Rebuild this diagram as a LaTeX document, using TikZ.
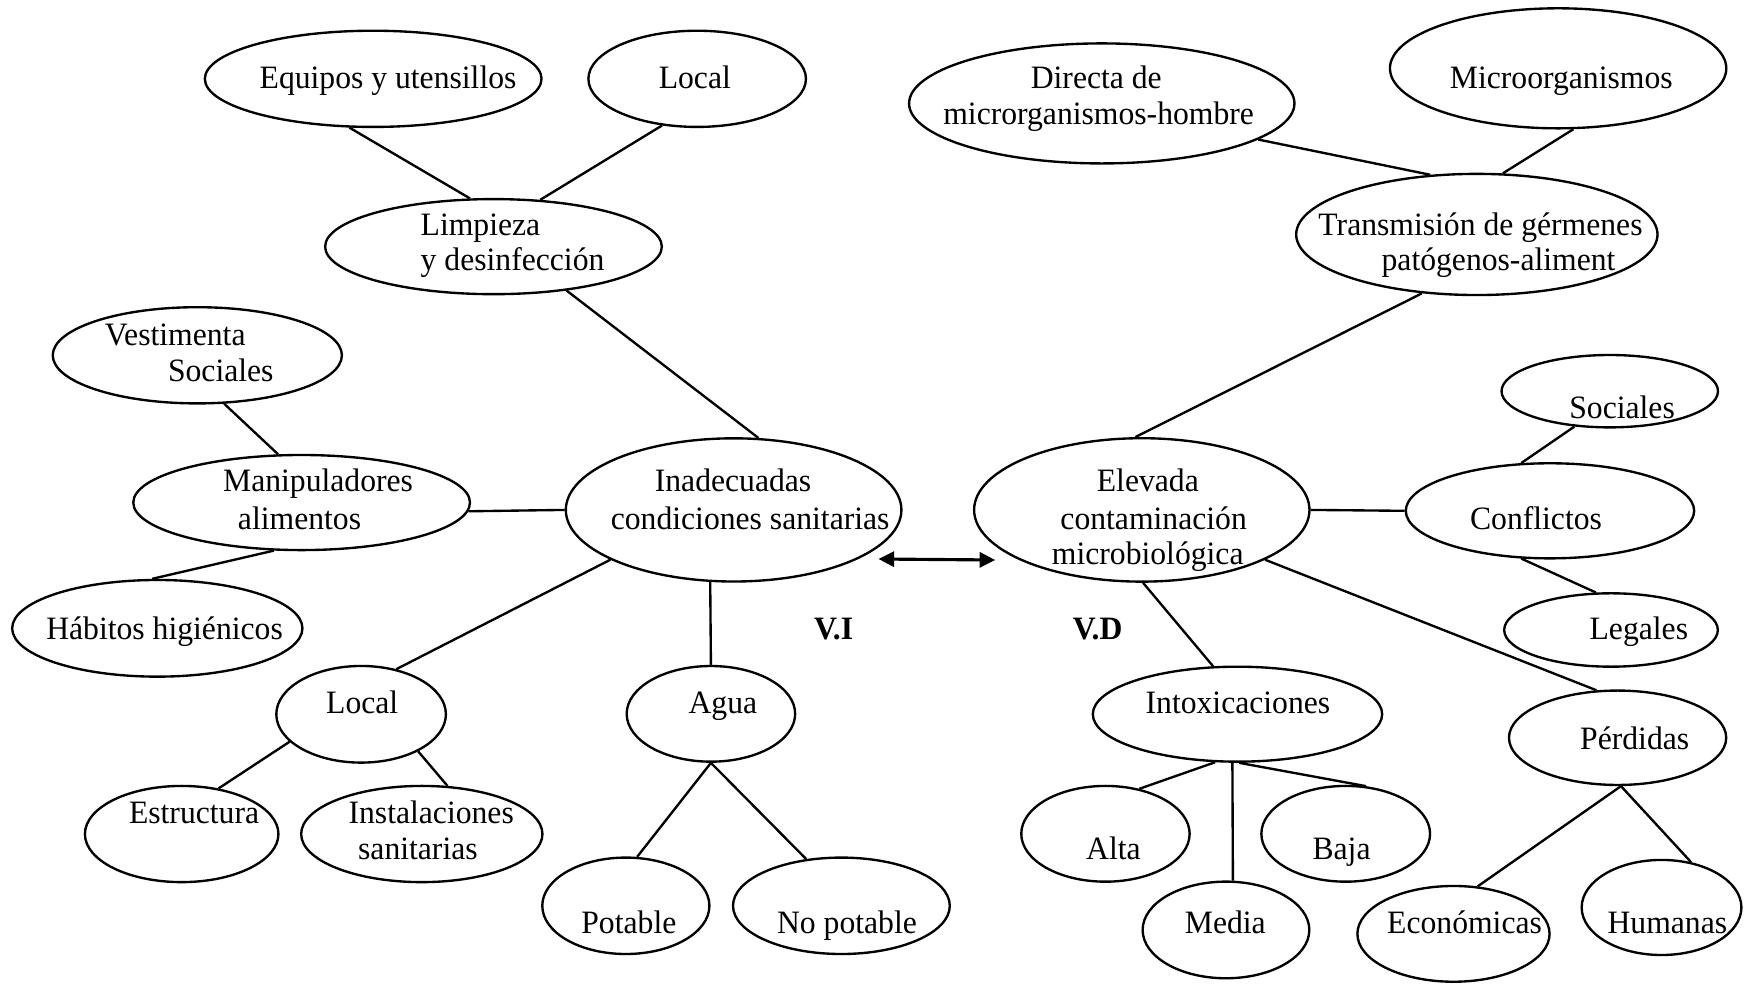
\documentclass[tikz,border=0pt]{standalone}
\usepackage{fontspec}
\setmainfont[FakeStretch=0.97]{Liberation Serif}
\usetikzlibrary{shapes.geometric,arrows.meta}

\begin{document}
\begin{tikzpicture}[x=0.01cm,y=-0.01cm,
  ell/.style={ellipse, draw, line width=0.6pt, inner sep=0pt},
  txt/.style={anchor=base, inner sep=0pt, font=\fontsize{8.3pt}{9.5pt}\selectfont},
  txtl/.style={txt, anchor=base west},
  vtxt/.style={txt, font=\fontsize{8.3pt}{9.5pt}\selectfont\bfseries},
  link/.style={line width=0.6pt},
  dbl/.style={line width=0.8pt, {Triangle[length=1.4mm,width=1.35mm]}-{Triangle[length=1.4mm,width=1.35mm]}}]
\useasboundingbox (0,0) rectangle (1568,881);

% ---- ellipses, left cluster (independent variable) ----
\node[ell, minimum width=3.01cm,  minimum height=0.86cm]  (eq)    at (333.8,70.5)  {};
\node[ell, minimum width=1.945cm, minimum height=0.86cm]  (loct)  at (623.6,70.5)  {};
\node[ell, minimum width=3.01cm,  minimum height=0.85cm]  (limp)  at (441.4,220.6) {};
\node[ell, minimum width=2.585cm, minimum height=0.86cm]  (vest)  at (176.5,317.8) {};
\node[ell, minimum width=3.01cm,  minimum height=0.85cm]  (manip) at (269.8,449.5) {};
\node[ell, minimum width=2.595cm, minimum height=0.864cm] (hab)   at (140.7,562)   {};
\node[ell, minimum width=3.00cm,  minimum height=1.28cm]  (inad)  at (656.2,456.1) {};
\node[ell, minimum width=1.516cm, minimum height=0.864cm] (locb)  at (323,638.9)   {};
\node[ell, minimum width=1.73cm,  minimum height=0.86cm]  (estr)  at (162.5,746)   {};
\node[ell, minimum width=2.157cm, minimum height=0.86cm]  (inst)  at (377.3,746)   {};
\node[ell, minimum width=1.506cm, minimum height=0.855cm] (agua)  at (635.9,638.5) {};
\node[ell, minimum width=1.494cm, minimum height=0.862cm] (pot)   at (559.8,810.2) {};
\node[ell, minimum width=1.938cm, minimum height=0.862cm] (nopot) at (752.6,810.2) {};

% ---- ellipses, right cluster (dependent variable) ----
\node[ell, minimum width=3.445cm, minimum height=1.073cm] (dir)   at (985.5,92.5)   {};
\node[ell, minimum width=3.007cm, minimum height=1.073cm] (micro) at (1393.7,61.1)  {};
\node[ell, minimum width=3.23cm,  minimum height=1.083cm] (trans) at (1321,209.7)   {};
\node[ell, minimum width=1.935cm, minimum height=0.647cm] (socr)  at (1439.9,349.9) {};
\node[ell, minimum width=2.998cm, minimum height=1.282cm] (elev)  at (1021.3,456.1) {};
\node[ell, minimum width=2.578cm, minimum height=0.85cm]  (conf)  at (1386.4,456.9) {};
\node[ell, minimum width=1.91cm,  minimum height=0.656cm] (leg)   at (1441,563.5)   {};
\node[ell, minimum width=2.587cm, minimum height=0.849cm] (intox) at (1106.9,638.8) {};
\node[ell, minimum width=1.942cm, minimum height=0.844cm] (perd)  at (1446.9,659.9) {};
\node[ell, minimum width=1.505cm, minimum height=0.856cm] (alta)  at (988.8,745.8)  {};
\node[ell, minimum width=1.508cm, minimum height=0.856cm] (baja)  at (1203.7,745.8) {};
\node[ell, minimum width=1.49cm,  minimum height=0.864cm] (media) at (1096.6,831.8) {};
\node[ell, minimum width=1.718cm, minimum height=0.856cm] (econ)  at (1300.1,835.3) {};
\node[ell, minimum width=1.428cm, minimum height=0.85cm]  (hum)   at (1486.2,811.7) {};

% ---- texts ----
\node[txt]  (t-eq)     at (347.1,79)    {Equipos y utensillos};
\node[txt]  (t-loct)   at (621.5,79)    {Local};
\node[txtl] (t-limp1)  at (375.6,210.2) {Limpieza};
\node[txtl] (t-limp2)  at (375.6,241.5) {y desinfección};
\node[txtl] (t-vest1)  at (93.1,308.6)  {Vestimenta};
\node[txtl] (t-vest2)  at (149.6,341.4) {Sociales};
\node[txt]  (t-manip1) at (284.5,439.8) {Manipuladores};
\node[txt]  (t-manip2) at (267.9,474)   {alimentos};
\node[txt]  (t-hab)    at (147.2,571.8) {Hábitos higiénicos};
\node[txt]  (t-inad1)  at (655.7,439.8) {Inadecuadas};
\node[txt]  (t-inad2)  at (671,474)     {condiciones sanitarias};
\node[txt]  (t-locb)   at (324,638)     {Local};
\node[txt]  (t-estr)   at (173.6,736.4) {Estructura};
\node[txt]  (t-inst1)  at (385.7,736.4) {Instalaciones};
\node[txt]  (t-inst2)  at (373.8,769.2) {sanitarias};
\node[txt]  (t-agua)   at (646.6,638)   {Agua};
\node[txt]  (t-pot)    at (562.5,834.8) {Potable};
\node[txt]  (t-nopot)  at (757.6,834.8) {No potable};

\node[txt]  (t-dir1)   at (980.6,79)    {Directa de};
\node[txt]  (t-dir2)   at (982.7,111.8) {microrganismos-hombre};
\node[txt]  (t-micro)  at (1396.5,79)   {Microorganismos};
\node[txt]  (t-trans1) at (1324.3,210.2) {Transmisión de gérmenes};
\node[txt]  (t-trans2) at (1340.4,241.5) {patógenos-aliment};
\node[txt]  (t-socr)   at (1450.9,374.2) {Sociales};
\node[txt]  (t-elev1)  at (1026.7,439.8) {Elevada};
\node[txt]  (t-elev2)  at (1031.9,474)   {contaminación};
\node[txt]  (t-elev3)  at (1026.6,505.3) {microbiológica};
\node[txt]  (t-conf)   at (1373.9,474)   {Conflictos};
\node[txt]  (t-leg)    at (1465.9,571.8) {Legales};
\node[txt]  (t-intox)  at (1107.3,638)   {Intoxicaciones};
\node[txt]  (t-perd)   at (1462.2,670.2) {Pérdidas};
\node[txt]  (t-alta)   at (995.9,769.2)  {Alta};
\node[txt]  (t-baja)   at (1200,769.2)   {Baja};
\node[txt]  (t-media)  at (1096,834.8)   {Media};
\node[txt]  (t-econ)   at (1310,834.8)   {Económicas};
\node[txt]  (t-hum)    at (1491.4,834.8) {Humanas};

\node[vtxt] (t-vi) at (745.6,572.4) {V.I};
\node[vtxt] (t-vd) at (981.8,572.4) {V.D};

% ---- connectors, left cluster ----
\draw[link] (eq.244)    -- (limp.116);
\draw[link] (loct.233)  -- (limp.45);
\draw[link] (limp.329)  -- (inad.71);
\draw[link] (vest.299)  -- (manip.116);
\draw[link] (manip.357) -- (inad.180);
\draw[link] (manip.240) -- (hab.96);
\draw[link] (inad.202)  -- (locb.52);
\draw[link] (inad.252)  -- (agua.90);
\draw[link] (locb.201)  -- (estr.51);
\draw[link] (locb.327)  -- (inst.62);
\draw[link] (agua.270)  -- (pot.77);
\draw[link] (agua.270)  -- (nopot.127);

% ---- connectors, right cluster ----
\draw[link] (dir.347)   -- (trans.128);
\draw[link] (micro.284) -- (trans.67);
\draw[link] (trans.227) -- (elev.95);
\draw[link] (elev.0)    -- (conf.180);
\draw[link] (socr.225)  -- (conf.121);
\draw[link] (conf.239)  -- (leg.112);
\draw[link] (elev.271)  -- (intox.117);
\draw[link] (elev.338)  -- (perd.114);
\draw[link] (intox.245) -- (alta.53);
\draw[link] (intox.264) -- (media.82);
\draw[link] (intox.272) -- (baja.67);
\draw[link] (perd.274)  -- (econ.63);
\draw[link] (perd.274)  -- (hum.57);

% ---- two-way relation between the variables ----
\coordinate (vi-end) at (785.8,500);
\coordinate (vd-end) at (890.2,500.9);
\draw[dbl] (vi-end) -- (vd-end);
\end{tikzpicture}
\end{document}
